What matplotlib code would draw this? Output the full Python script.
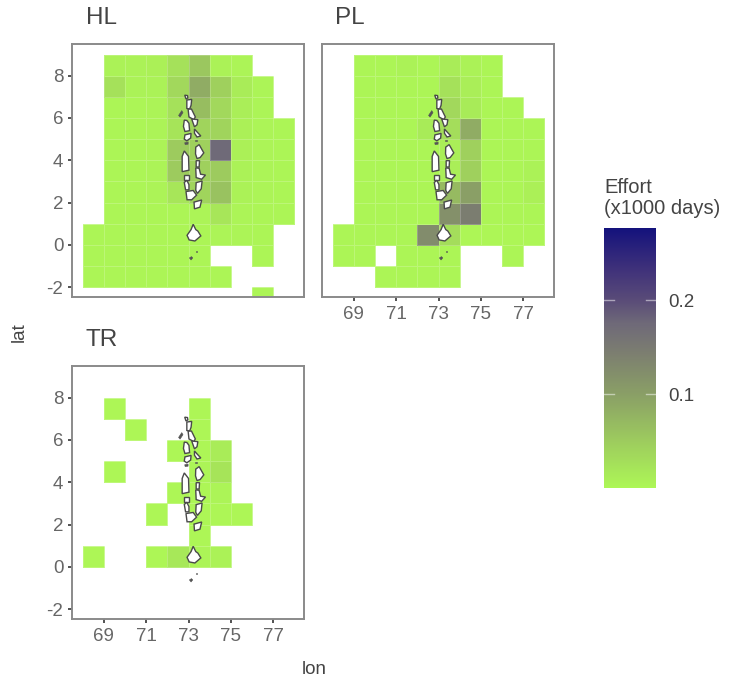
import numpy as np
import matplotlib
matplotlib.use("Agg")
import matplotlib.pyplot as plt
from matplotlib.colors import LinearSegmentedColormap, Normalize
from matplotlib.cm import ScalarMappable
from matplotlib.patches import Polygon

plt.rcParams['font.family'] = ['Liberation Sans', 'DejaVu Sans']

N = np.nan
lon_edges = list(range(68, 79))          # 68..78
lat_edges = list(range(-3, 10))          # -3..9
lon_ticks = [69, 71, 73, 75, 77]
lat_ticks = [-2, 0, 2, 4, 6, 8]
lat_labels = ["-2", "0", "2", "4", "6", "8"]
effort_ticks = [0.1, 0.2]
effort_max = 0.277

# effort by lat row (top row = lat 8), columns lon 68..77
HL = [
    [N, .006, .006, .008, .025, .055, .006, .004, N, N],
    [N, .025, .006, .006, .035, .085, .045, .012, .004, N],
    [N, .003, .003, .005, .025, .065, .035, .01, .004, N],
    [N, .003, .003, .005, .022, .04, .04, .008, .004, .003],
    [N, .003, .003, .005, .05, .045, .175, .008, .004, .003],
    [N, .003, .003, .005, .05, .045, .05, .006, .004, .003],
    [N, .003, .003, .005, .02, .04, .06, .006, .004, .003],
    [N, .003, .003, .003, .003, .004, .02, .004, .003, .003],
    [.003, .003, .003, .003, .003, .003, .004, .004, .003, N],
    [.003, .003, .003, .003, .003, .003, N, N, .003, N],
    [.003, .003, .003, .003, .003, .003, .003, N, N, N],
    [N, N, N, N, N, N, N, N, .003, N],
]
PL = [
    [N, .003, .003, .006, .003, .012, .006, .003, N, N],
    [N, .003, .003, .003, .003, .025, .01, .003, N, N],
    [N, .003, .003, .003, .003, .035, .015, .003, .003, N],
    [N, .003, .003, .003, .015, .03, .085, .003, .003, .003],
    [N, .003, .003, .003, .003, .01, .045, .003, .003, .003],
    [N, .003, .003, .003, .003, .01, .045, .003, .003, .006],
    [N, .003, .003, .003, .003, .07, .10, .003, .003, .008],
    [N, .003, .003, .003, .003, .12, .145, .003, .003, .003],
    [.003, .003, .003, .003, .125, .03, .002, .002, .002, .002],
    [.003, .003, N, .003, .003, .003, N, N, .003, N],
    [N, N, .003, .003, .003, .003, N, N, N, N],
    [N, N, N, N, N, N, N, N, N, N],
]
TR = [
    [N, N, N, N, N, N, N, N, N, N],
    [N, .002, N, N, N, .002, N, N, N, N],
    [N, N, .002, N, N, .002, N, N, N, N],
    [N, N, N, N, .002, .002, .012, N, N, N],
    [N, .002, N, N, N, .004, .022, N, N, N],
    [N, N, N, N, .002, .002, .004, N, N, N],
    [N, N, N, .002, N, .002, .002, .002, N, N],
    [N, N, N, N, N, .002, N, N, N, N],
    [.002, N, N, .002, .018, .004, .006, N, N, N],
    [N, N, N, N, N, N, N, N, N, N],
    [N, N, N, N, N, N, N, N, N, N],
    [N, N, N, N, N, N, N, N, N, N],
]

# Maldives atoll outlines (lon, lat)
atolls = [
    [(72.82, 7.08), (72.95, 7.06), (72.97, 6.95), (72.88, 6.90)],
    [(72.92, 6.85), (73.15, 6.88), (73.12, 6.60), (73.05, 6.42), (72.92, 6.45)],
    [(72.98, 6.42), (73.14, 6.42), (73.32, 6.05), (73.25, 5.92), (73.02, 6.05)],
    [(73.15, 5.95), (73.44, 5.92), (73.40, 5.68), (73.28, 5.58)],
    [(72.80, 5.90), (72.92, 5.88), (73.02, 5.75), (73.05, 5.40), (72.83, 5.36), (72.76, 5.60)],
    [(72.83, 5.20), (73.12, 5.27), (73.10, 5.05), (72.92, 4.92), (72.80, 5.0)],
    [(73.28, 5.48), (73.42, 5.32), (73.58, 5.15), (73.40, 5.10), (73.28, 5.28)],
    [(73.34, 4.62), (73.50, 4.74), (73.72, 4.35), (73.55, 4.13), (73.40, 4.08), (73.33, 4.30)],
    [(73.36, 3.98), (73.52, 3.98), (73.50, 3.68), (73.36, 3.68)],
    [(72.70, 4.18), (72.80, 4.44), (73.0, 4.18), (73.02, 3.53), (72.70, 3.46)],
    [(72.80, 3.32), (73.02, 3.32), (73.02, 3.06), (72.80, 3.06)],
    [(72.80, 2.95), (72.92, 3.05), (73.02, 2.85), (73.02, 2.60), (72.86, 2.60)],
    [(73.34, 3.64), (73.50, 3.62), (73.57, 3.34), (73.80, 3.30), (73.62, 3.10), (73.36, 3.18)],
    [(73.36, 2.94), (73.64, 3.02), (73.60, 2.65), (73.42, 2.43), (73.34, 2.58)],
    [(72.88, 2.52), (73.22, 2.57), (73.38, 2.35), (73.15, 2.13), (72.93, 2.13)],
    [(73.26, 2.02), (73.62, 2.12), (73.54, 1.78), (73.28, 1.70)],
    [(73.12, 0.72), (73.22, 0.97), (73.34, 0.72), (73.44, 0.65), (73.58, 0.42), (73.30, 0.18), (73.03, 0.23), (72.93, 0.45)],
]
dark_islets = [
    [(72.53, 6.12), (72.68, 6.35), (72.74, 6.25), (72.60, 6.04)],
    [(72.82, 4.83), (72.98, 4.86), (72.98, 4.76), (72.84, 4.74)],
    [(73.04, -0.62), (73.14, -0.56), (73.20, -0.62), (73.12, -0.72)],
    [(73.37, -0.29), (73.41, -0.29), (73.41, -0.36), (73.37, -0.36)],
    [(73.32, 4.98), (73.38, 4.98), (73.38, 4.9), (73.32, 4.9)],
]

W, H = 731, 686
cmap = LinearSegmentedColormap.from_list("effort", [
    (0.00, "#ADF756"), (0.18, "#9DCB5E"), (0.36, "#8A9F66"), (0.52, "#7C7E70"),
    (0.63, "#6F6A78"), (0.72, "#5A4C78"), (0.84, "#40327A"), (1.00, "#14127C")])
norm = Normalize(0, effort_max)

fig = plt.figure(figsize=(W / 100, H / 100), dpi=100)


def box(l, t, r, b):
    return [l / W, 1 - b / H, (r - l) / W, (b - t) / H]


def panel(rect, name, values, show_x, show_y, title_x, title_y):
    ax = fig.add_axes(box(*rect))
    ax.pcolormesh(lon_edges, lat_edges, np.array(values, float)[::-1], cmap=cmap, norm=norm,
                  edgecolors=(1, 1, 1, 0.2), linewidth=0.5)
    for shape in atolls:
        ax.add_patch(Polygon(shape, closed=True, facecolor="white", edgecolor="#4a4a4a", linewidth=1.0, zorder=3))
    for shape in dark_islets:
        ax.add_patch(Polygon(shape, closed=True, facecolor="#555555", edgecolor="#555555", linewidth=0.4, zorder=3))
    ax.set_xlim(67.5, 78.45)
    ax.set_ylim(-2.47, 9.5)
    ax.set_xticks(lon_ticks if show_x else [])
    if show_y:
        ax.set_yticks(lat_ticks, lat_labels)
    else:
        ax.set_yticks([])
    ax.tick_params(length=3.2, width=1.3, color="#444444", labelcolor="#666666", labelsize=13.5, pad=3)
    for s in ax.spines.values():
        s.set_color("#8a8a8a")
        s.set_linewidth(1.4)
    fig.text(title_x / W, 1 - title_y / H, name, fontsize=17.5, color="#444444", ha="left", va="center")
    return ax


panel((72, 44, 304, 297), "HL", HL, False, True, 86, 18)
panel((322, 44, 554, 297), "PL", PL, True, False, 335, 18)
panel((72, 366, 304, 619), "TR", TR, True, True, 86, 340)

fig.text(19 / W, 1 - 332 / H, "lat", rotation=90, fontsize=13.5, color="#444444", ha="center", va="center")
fig.text(314 / W, 1 - 670 / H, "lon", fontsize=13.5, color="#444444", ha="center", va="center")

cax = fig.add_axes(box(604, 228, 656, 488))
cb = fig.colorbar(ScalarMappable(norm=norm, cmap=cmap), cax=cax, ticks=effort_ticks)
cb.outline.set_visible(False)
cb.ax.tick_params(length=0, labelsize=13.5, labelcolor="#444444", pad=9)
cb.ax.set_yticklabels(["0.1", "0.2"])
for v in effort_ticks:
    cax.plot([0, 0.2], [v, v], color="white", alpha=0.5, lw=1.0, transform=cax.get_yaxis_transform())
    cax.plot([0.8, 1], [v, v], color="white", alpha=0.5, lw=1.0, transform=cax.get_yaxis_transform())
fig.text(604 / W, 1 - 198 / H, "Effort\n(x1000 days)", fontsize=14.5, color="#444444", ha="left", va="center", linespacing=1.1)

fig.savefig("out.png", dpi=100)
